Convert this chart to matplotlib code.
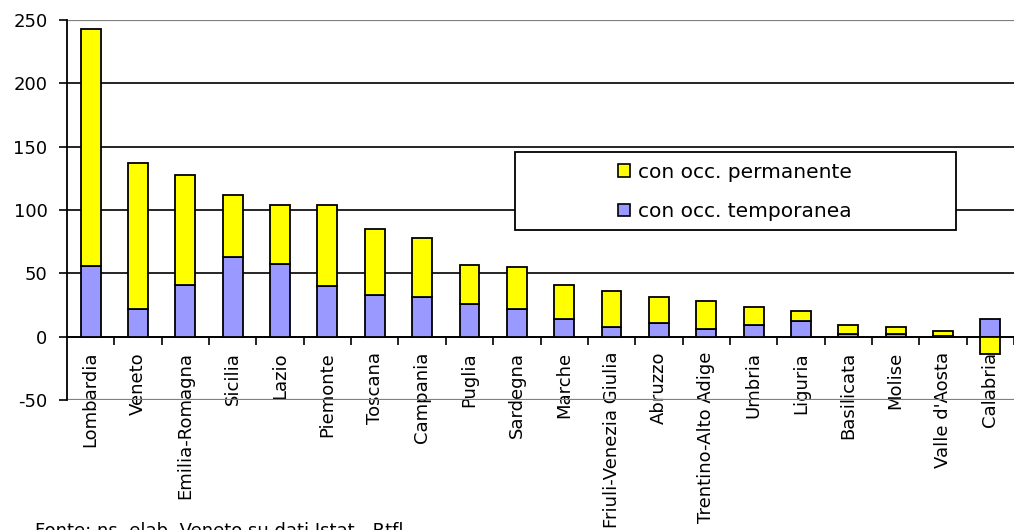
import numpy as np
import matplotlib
matplotlib.use('Agg')
import matplotlib.pyplot as plt
from matplotlib.patches import Rectangle, Patch

regioni = ['Lombardia', 'Veneto', 'Emilia-Romagna', 'Sicilia', 'Lazio', 'Piemonte',
           'Toscana', 'Campania', 'Puglia', 'Sardegna', 'Marche', 'Friuli-Venezia Giulia',
           'Abruzzo', 'Trentino-Alto Adige', 'Umbria', 'Liguria', 'Basilicata', 'Molise',
           "Valle d'Aosta", 'Calabria']
# con occupazione temporanea (blu) e permanente (giallo)
temporanea = [56, 22, 41, 63, 57, 40, 33, 31, 26, 21.5, 13.6, 7.3, 10.5, 5.7, 9.5, 12.4, 2, 2, 0.5, 14]
permanente = [187, 115, 87, 49, 47, 64, 52, 47, 30.5, 33.5, 27.2, 28.7, 20.8, 22.3, 14.2, 7.9, 7.5, 5.9, 4.0, -14]
yticks = [-50, 0, 50, 100, 150, 200, 250]

plt.rcParams['font.family'] = 'DejaVu Sans'

fig = plt.figure(figsize=(10.14, 5.30), dpi=100)
ax = fig.add_axes([67/1014, 1 - 400/530, 947/1014, 380/530])

x = np.arange(len(regioni))
temp = np.array(temporanea)
perm = np.array(permanente)
bottom_perm = np.where(perm >= 0, temp, 0)

ax.bar(x, temp, width=0.42, color='#9999FF', edgecolor='black', linewidth=1.3, zorder=3)
ax.bar(x, perm, bottom=bottom_perm, width=0.42, color='#FFFF00', edgecolor='black',
       linewidth=1.3, zorder=3)

ax.set_xlim(-0.5, 19.27)
ax.set_ylim(-50, 250)
ax.set_yticks(yticks)
ax.set_yticklabels([str(v) for v in yticks], fontsize=13)
ax.tick_params(axis='y', direction='out', length=6, width=1.2, color='black', pad=8)

# asse x sulla linea dello zero
ax.spines['bottom'].set_position(('data', 0))
ax.spines['bottom'].set_linewidth(1.3)
ax.spines['left'].set_linewidth(1.3)
ax.spines['top'].set_visible(False)
ax.spines['right'].set_visible(False)
ax.set_xticks(x)
ax.set_xticklabels(regioni, rotation=90, fontsize=13, va='top')
ax.set_xticks(np.arange(len(regioni)) + 0.5, minor=True)
ax.tick_params(axis='x', which='major', length=0, pad=11)
ax.tick_params(axis='x', which='minor', direction='out', length=6, width=1.2, color='black')

ax.yaxis.grid(True, color='black', linewidth=1.2, zorder=0)
ax.set_axisbelow(True)
gl = ax.yaxis.get_gridlines()
gl[0].set_color('#808080')
gl[0].set_linewidth(1.6)
gl[-1].set_color('#808080')
gl[-1].set_linewidth(1.6)

# legenda con riquadro
fig.patches.append(Rectangle((515/1014, 1 - 230/530), 441/1014, 78/530,
                             transform=fig.transFigure, facecolor='white',
                             edgecolor='black', linewidth=1.3, zorder=5))
handles = [Patch(facecolor='#FFFF00', edgecolor='black', linewidth=1.2),
           Patch(facecolor='#9999FF', edgecolor='black', linewidth=1.2)]
leg = fig.legend(handles, ['con occ. permanente', 'con occ. temporanea'],
                 loc='center', bbox_to_anchor=(735/1014, 1 - 192/530), frameon=False,
                 fontsize=14.5, handlelength=0.6, handleheight=0.6, handletextpad=0.4,
                 labelspacing=1.0)
leg.set_zorder(6)

fig.text(35/1014, 1 - 522/530, 'Fonte: ns. elab. Veneto su dati Istat - Rtfl',
         fontsize=13, ha='left', va='top')

fig.savefig('out.png', dpi=100)
